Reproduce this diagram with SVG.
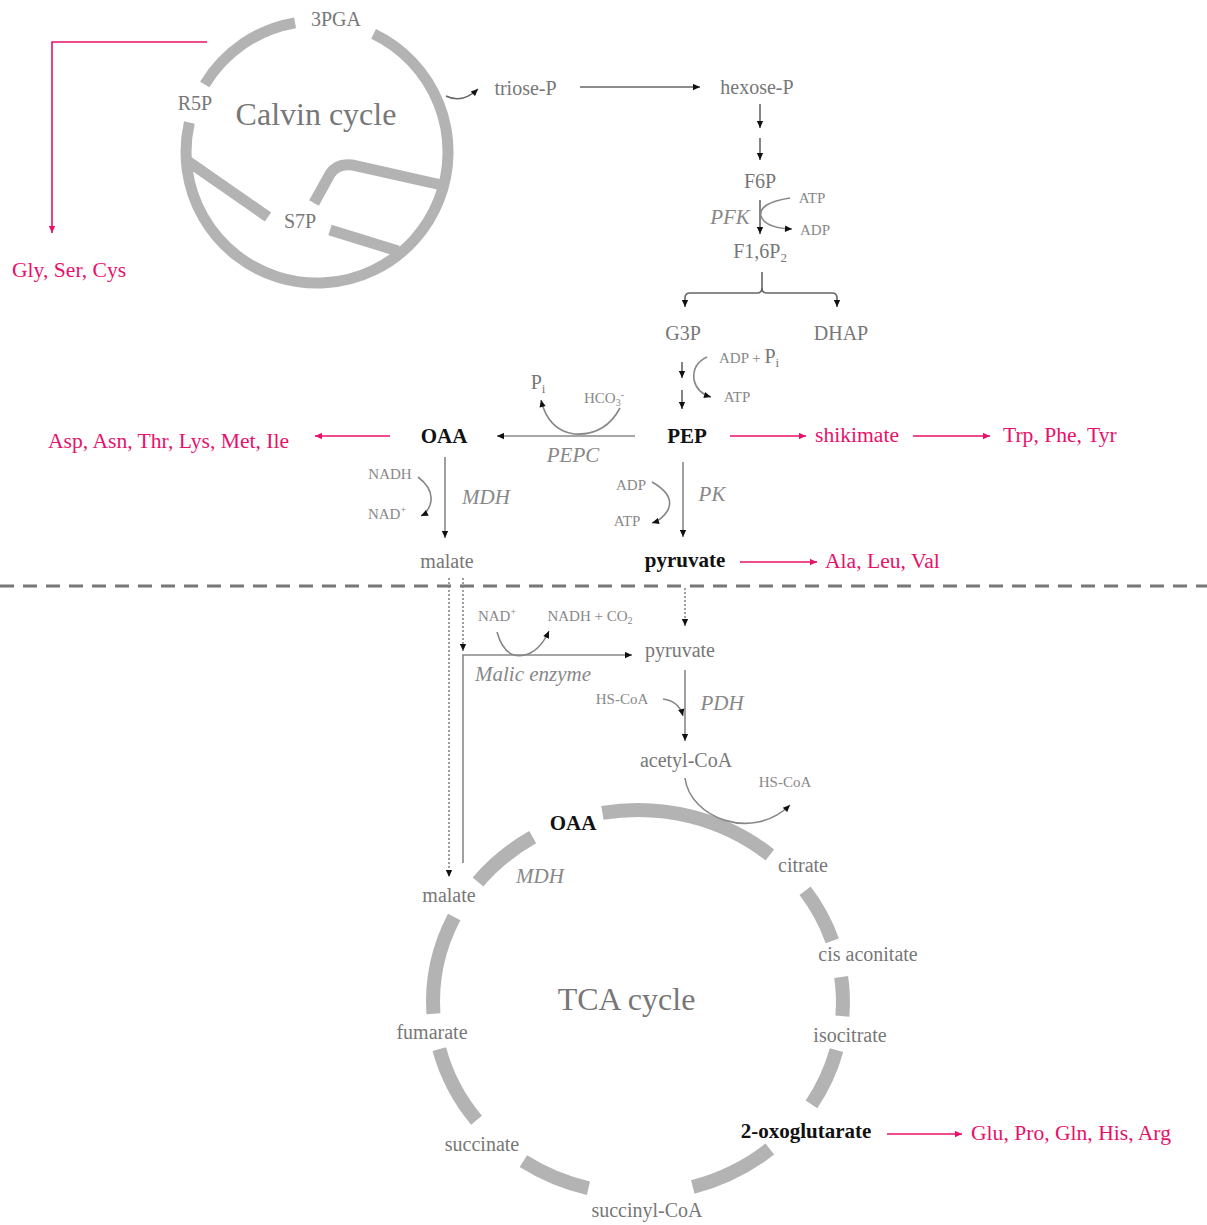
<svg xmlns="http://www.w3.org/2000/svg" width="1207" height="1225" viewBox="0 0 1207 1225">
<defs>
<marker id="ah" viewBox="0 0 10 10" refX="10" refY="5" markerWidth="8" markerHeight="7" markerUnits="userSpaceOnUse" orient="auto"><path d="M0,0.5 L10,5 L0,9.5 z" fill="#111"/></marker>
<marker id="ap" viewBox="0 0 10 10" refX="10" refY="5" markerWidth="8" markerHeight="7" markerUnits="userSpaceOnUse" orient="auto"><path d="M0,0.5 L10,5 L0,9.5 z" fill="#e8116a"/></marker>
<style>
text{font-family:"Liberation Serif","Times New Roman",serif}
.t{font-size:20px;fill:#777}
.s{font-size:15px;fill:#888}
.b{font-size:21px;font-weight:bold;fill:#111}
.i{font-size:21px;font-style:italic;fill:#888}
.p{font-size:21.6px;fill:#e8116a}
.big{font-size:32px;fill:#777}
.m{text-anchor:middle}
.ring{fill:none;stroke:#b3b3b3;stroke-width:11;stroke-linecap:butt}
.tca{fill:none;stroke:#b3b3b3;stroke-width:14;stroke-linecap:butt}
.c{fill:none;stroke:#888;stroke-width:1.6}
.ck{fill:none;stroke:#666;stroke-width:1.6}
.pk{fill:none;stroke:#e8116a;stroke-width:1.6}
.dot{fill:none;stroke:#888;stroke-width:1.6;stroke-dasharray:2 2}
</style>
</defs>
<rect width="1207" height="1225" fill="#fff"/>

<g id="calvin-cycle">
<path class="ring" d="M373.6 33.9 A131 131 0 1 1 189.4 122.5"/>
<path class="ring" d="M204.7 84.5 A131 131 0 0 1 295.1 22.8"/>
<path class="ring" d="M186 160 L268 217"/>
<path class="ring" d="M314 203 L330 174 Q337 163 352 165 L446 186"/>
<path class="ring" d="M330 230 L398 251"/>
<text class="t m" x="336" y="26" font-size="21">3PGA</text>
<text class="t m" x="195" y="110">R5P</text>
<text class="t m" x="300" y="228">S7P</text>
<text class="big m" x="316" y="125">Calvin cycle</text>
</g>

<g id="gly-ser-cys"><text class="p" x="12" y="277">Gly, Ser, Cys</text></g>
<g id="triose-P"><text class="t m" x="525.5" y="95">triose-P</text></g>
<g id="hexose-P"><text class="t m" x="757" y="94">hexose-P</text></g>
<g id="F6P"><text class="t m" x="760" y="188">F6P</text></g>
<g id="F16P2"><text class="t m" x="760" y="258">F1,6P<tspan font-size="13" dy="4">2</tspan></text></g>
<g id="G3P"><text class="t m" x="683" y="340">G3P</text></g>
<g id="DHAP"><text class="t m" x="841" y="340">DHAP</text></g>
<g id="PEP"><text class="b m" x="687" y="443">PEP</text></g>
<g id="OAA"><text class="b m" x="444" y="443">OAA</text></g>
<g id="asp"><text class="p" x="48" y="448">Asp, Asn, Thr, Lys, Met, Ile</text></g>
<g id="shikimate"><text class="p" x="815" y="442">shikimate</text></g>
<g id="trp"><text class="p" x="1003" y="442">Trp, Phe, Tyr</text></g>
<g id="malate-cyt"><text class="t m" x="447" y="568">malate</text></g>
<g id="pyruvate-cyt"><text class="b m" x="685" y="567">pyruvate</text></g>
<g id="ala"><text class="p" x="825" y="568">Ala, Leu, Val</text></g>
<g id="pyruvate-mit"><text class="t m" x="680" y="657">pyruvate</text></g>
<g id="acetyl-CoA"><text class="t m" x="686" y="767">acetyl-CoA</text></g>

<g id="tca-cycle">
<path class="tca" d="M602.4 812.9 A205 192 0 0 1 769.8 854.9"/>
<path class="tca" d="M805.1 890.8 A205 192 0 0 1 832.3 940.8"/>
<path class="tca" d="M841.2 977 A205 192 0 0 1 842.4 1016.1"/>
<path class="tca" d="M836.5 1050.1 A205 192 0 0 1 811.5 1104.3"/>
<path class="tca" d="M769.8 1149.1 A205 192 0 0 1 692.8 1187"/>
<path class="tca" d="M588.4 1188.3 A205 192 0 0 1 523.4 1161.2"/>
<path class="tca" d="M476.5 1120.2 A205 192 0 0 1 439.3 1049.1"/>
<path class="tca" d="M433.4 1013.7 A205 192 0 0 1 454.2 916.9"/>
<path class="tca" d="M478 882 A205 192 0 0 1 532.7 837.2"/>
<text class="big m" x="626.5" y="1010" font-size="31">TCA cycle</text>
</g>
<g id="OAA-mit"><text class="b m" x="573" y="830">OAA</text></g>
<g id="citrate"><text class="t m" x="803" y="872">citrate</text></g>
<g id="cis-aconitate"><text class="t m" x="868" y="961" font-size="20.5">cis aconitate</text></g>
<g id="isocitrate"><text class="t m" x="850" y="1042">isocitrate</text></g>
<g id="oxoglutarate"><text class="b m" x="806" y="1138">2-oxoglutarate</text></g>
<g id="glu"><text class="p" x="971" y="1140">Glu, Pro, Gln, His, Arg</text></g>
<g id="succinyl-CoA"><text class="t m" x="647" y="1217" font-size="20.5">succinyl-CoA</text></g>
<g id="succinate"><text class="t m" x="482" y="1151">succinate</text></g>
<g id="fumarate"><text class="t m" x="432" y="1039">fumarate</text></g>
<g id="malate-mit"><text class="t m" x="449" y="902">malate</text></g>

<g id="cofactors">
<text class="i m" x="730" y="224">PFK</text>
<text class="s m" x="812" y="203">ATP</text>
<text class="s m" x="815" y="235">ADP</text>
<text class="s" x="719" y="363">ADP + <tspan font-size="20" fill="#777">P</tspan><tspan font-size="13" fill="#777" dy="4">i</tspan></text>
<text class="s m" x="737" y="402">ATP</text>
<text class="s m" x="604" y="403">HCO<tspan font-size="10" dy="3">3</tspan><tspan font-size="10" dy="-8">-</tspan></text>
<text class="t m" x="538" y="389">P<tspan font-size="13" dy="4">i</tspan></text>
<text class="i m" x="573" y="462">PEPC</text>
<text class="s m" x="390" y="479">NADH</text>
<text class="s m" x="387" y="519">NAD<tspan font-size="10" dy="-6">+</tspan></text>
<text class="i m" x="486" y="504">MDH</text>
<text class="s m" x="631" y="490">ADP</text>
<text class="s m" x="627" y="526">ATP</text>
<text class="i m" x="712" y="501">PK</text>
<text class="s m" x="497" y="621">NAD<tspan font-size="10" dy="-6">+</tspan></text>
<text class="s m" x="590" y="621">NADH + CO<tspan font-size="10" dy="3">2</tspan></text>
<text class="i m" x="533" y="681">Malic enzyme</text>
<text class="s m" x="622" y="704">HS-CoA</text>
<text class="i m" x="722" y="710">PDH</text>
<text class="s m" x="785" y="787">HS-CoA</text>
<text class="i m" x="540" y="883">MDH</text>
</g>

<g id="connectors">
<path class="pk" d="M207 42 L52 42 L52 233" marker-end="url(#ap)"/>
<path class="ck" d="M446 96 Q462 104 478 89" marker-end="url(#ah)"/>
<path class="ck" d="M580 87 L700 87" marker-end="url(#ah)"/>
<path class="ck" d="M760 104 L760 128" marker-end="url(#ah)"/>
<path class="ck" d="M760 138 L760 160" marker-end="url(#ah)"/>
<path class="ck" d="M760 200 L760 234" marker-end="url(#ah)"/>
<path class="c" d="M790 198 Q758 203 761 216 Q765 228 792 229" marker-end="url(#ah)"/>
<path class="ck" d="M762 272 L762 288 Q762 293 757 293 L690 293 Q685 293 685 298 L685 307" marker-end="url(#ah)"/>
<path class="ck" d="M762 288 Q762 293 767 293 L832 293 Q837 293 837 298 L837 307" marker-end="url(#ah)"/>
<path class="ck" d="M682 362 L682 378" marker-end="url(#ah)"/>
<path class="ck" d="M682 390 L682 409" marker-end="url(#ah)"/>
<path class="c" d="M707 357 Q692 364 694 380 Q697 393 711 397" marker-end="url(#ah)"/>
<path class="c" d="M635 436 L497 436" marker-end="url(#ah)"/>
<path class="c" d="M620 408 Q605 436 574 434 Q548 430 541 400" marker-end="url(#ah)"/>
<path class="pk" d="M390 436 L315 436" marker-end="url(#ap)"/>
<path class="pk" d="M730 436 L806 436" marker-end="url(#ap)"/>
<path class="pk" d="M913 436 L990 436" marker-end="url(#ap)"/>
<path class="c" d="M445 457 L445 538" marker-end="url(#ah)"/>
<path class="c" d="M418 477 Q435 490 430 505 Q427 513 421 516" marker-end="url(#ah)"/>
<path class="c" d="M683 462 L683 537" marker-end="url(#ah)"/>
<path class="c" d="M652 482 Q675 495 668 510 Q662 520 652 523" marker-end="url(#ah)"/>
<path class="pk" d="M740 562 L817 562" marker-end="url(#ap)"/>
<path d="M0 586 L1207 586" fill="none" stroke="#777" stroke-width="3" stroke-dasharray="14 9"/>
<path class="dot" d="M449 578 L449 877" marker-end="url(#ah)"/>
<path class="dot" d="M463 578 L463 651" marker-end="url(#ah)"/>
<path class="c" d="M463 863 L463 655 L632 655" marker-end="url(#ah)"/>
<path class="c" d="M497 632 Q505 660 525 655 Q540 651 549 631" marker-end="url(#ah)"/>
<path class="dot" d="M685 588 L685 626" marker-end="url(#ah)"/>
<path class="c" d="M685 670 L685 741" marker-end="url(#ah)"/>
<path class="c" d="M663 699 Q679 701 683 716" marker-end="url(#ah)"/>
<path class="c" d="M685 778 C690 818 752 842 790 805" marker-end="url(#ah)"/>
<path class="pk" d="M887 1134 L962 1134" marker-end="url(#ap)"/>
</g>
</svg>
